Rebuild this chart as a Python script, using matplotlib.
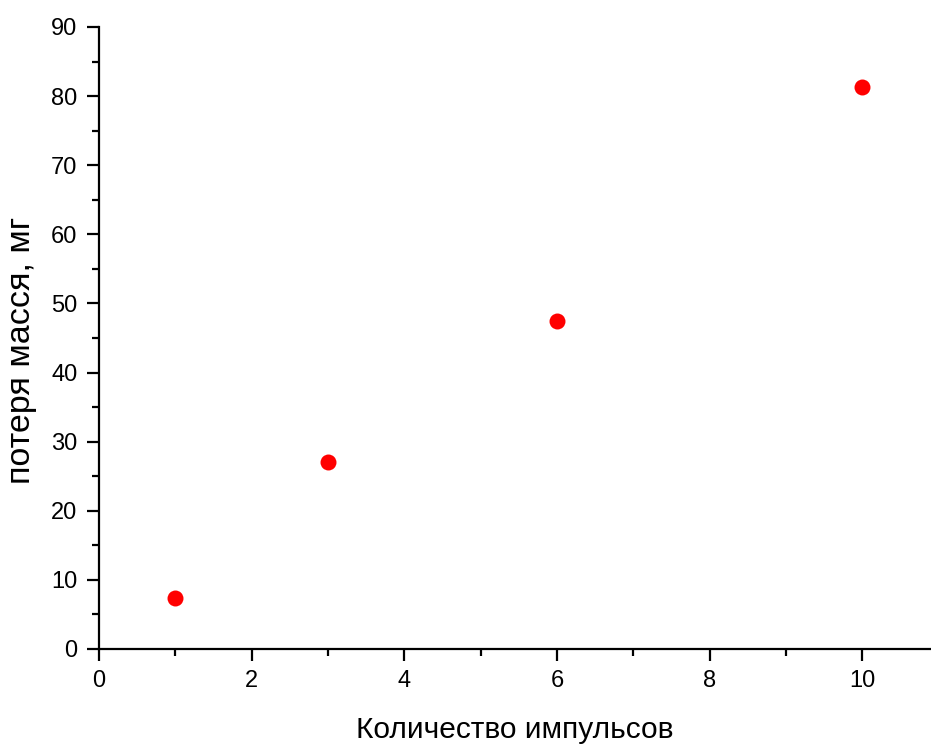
import matplotlib.pyplot as plt
from matplotlib.ticker import MultipleLocator

plt.rcParams['font.family'] = ['Liberation Sans', 'DejaVu Sans']

# Данные
impulses = [1, 3, 6, 10]
mass_loss = [7.4, 27.0, 47.5, 81.3]

fig = plt.figure(figsize=(9.31, 7.45), dpi=100)
ax = fig.add_axes([0.1063, 0.1289, 0.8937, 0.8349])

ax.plot(impulses, mass_loss, 'o', color='#ff0000', markersize=11.5,
        markeredgewidth=0, clip_on=False)

ax.set_xlim(0, 10.9)
ax.set_ylim(0, 90)
ax.xaxis.set_major_locator(MultipleLocator(2))
ax.xaxis.set_minor_locator(MultipleLocator(1))
ax.yaxis.set_major_locator(MultipleLocator(10))
ax.yaxis.set_minor_locator(MultipleLocator(5))

ax.spines['top'].set_visible(False)
ax.spines['right'].set_visible(False)
for s in ('left', 'bottom'):
    ax.spines[s].set_linewidth(1.6)

ax.tick_params(which='major', direction='out', length=8.5, width=1.6,
               labelsize=17, pad=7)
ax.tick_params(which='minor', direction='out', length=5, width=1.6)

ax.set_xlabel("Количество импульсов", fontsize=21.5, labelpad=17)
ax.set_ylabel("потеря масся, мг", fontsize=24.5)
ax.yaxis.set_label_coords(-0.075, 0.48)

fig.savefig("out.png", dpi=100)
